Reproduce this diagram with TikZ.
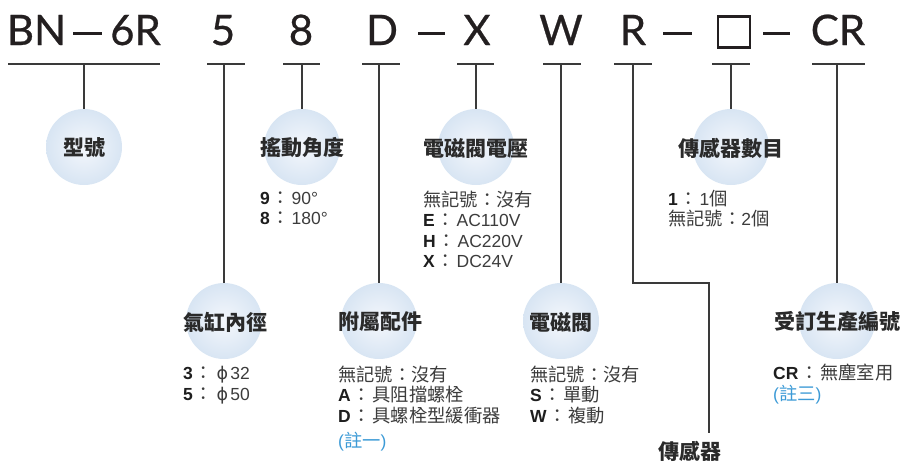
\documentclass[tikz,border=0pt]{standalone}
\usepackage{fontspec}
\setmainfont{Liberation Sans}
\newfontfamily\cj{Noto Sans CJK TC}
\newfontfamily\codefont[FakeBold=0.6]{Lato}
\newfontfamily\dvs{DejaVu Sans}
\definecolor{linec}{HTML}{3A3A3A}
\definecolor{codec}{HTML}{231F20}
\definecolor{titlec}{HTML}{2A2A2A}
\definecolor{bodyc}{HTML}{3C3C3C}
\definecolor{boldc}{HTML}{1E1E1E}
\definecolor{notec}{HTML}{3C9AD6}
\definecolor{bubin}{HTML}{F4F7FC}
\definecolor{bubout}{HTML}{D8E5F3}
\tikzset{
  bubble/.style={circle, minimum size=76pt, inner sep=0pt, inner color=bubin, outer color=bubout},
  title/.style={font=\cj\bfseries\fontsize{21}{24}\selectfont, text=titlec, inner sep=0pt},
  body/.style={font=\fontsize{17.5}{20}\selectfont, text=bodyc, inner sep=0pt, anchor=base west},
  note/.style={body, text=notec},
  code/.style={font=\codefont\fontsize{42}{46}\selectfont, text=codec, inner sep=0pt, anchor=base},
  conn/.style={draw=linec, line width=1.3pt},
  sqbox/.style={draw=codec, line width=2.3pt, minimum width=32pt, minimum height=31pt, inner sep=0pt}
}
\newcommand{\bb}[1]{{\bfseries\color{boldc}#1}}
\newcommand{\cc}[1]{{\cj\fontsize{18.3}{20}\selectfont #1}}
\newcommand{\colo}{\hspace{2pt}\cc{：}\hspace{1.5pt}}
\newcommand{\dashmark}[1]{\rule[10.5pt]{#1}{2.8pt}}
\begin{document}
\begin{tikzpicture}[x=1pt,y=-1pt]
\useasboundingbox (0,0) rectangle (902,461);
% code line
\node[code] (cBN) at (36.5,45) {BN};
\node[code] (d1) at (87.5,45) {\dashmark{29pt}};
\node[code] (c6R) at (135.5,45) {6R};
\node[code] (c5) at (223,45) {5};
\node[code] (c8) at (301,45) {8};
\node[code] (cD) at (382,45) {D};
\node[code] (d2) at (431.5,45) {\dashmark{27pt}};
\node[code] (cX) at (477,45) {X};
\node[code] (cW) at (561,45) {W};
\node[code] (cR) at (633,45) {R};
\node[code] (d3) at (677.5,45) {\dashmark{29pt}};
\node[sqbox] (cSq) at (734,32) {};
\node[code] (d4) at (776.5,45) {\dashmark{27pt}};
\node[code] (cCR) at (838,45) {CR};
% bars
\draw[conn] (8,64) -- (160,64);
\draw[conn] (207,64) -- (245,64);
\draw[conn] (283,64) -- (320,64);
\draw[conn] (362,64) -- (400,64);
\draw[conn] (457,64) -- (494,64);
\draw[conn] (543,64) -- (581,64);
\draw[conn] (614,64) -- (652,64);
\draw[conn] (712,64) -- (750,64);
\draw[conn] (812,64) -- (865,64);
\coordinate (k1) at (84,64);
\coordinate (k2) at (224,64);
\coordinate (k3) at (302,64);
\coordinate (k4) at (379,64);
\coordinate (k5) at (476,64);
\coordinate (k6) at (561,64);
\coordinate (k7) at (633,64);
\coordinate (k8) at (731,64);
\coordinate (k9) at (837,64);
% bubbles
\node[bubble] (b1) at (84,147) {};
\node[bubble] (b3) at (302,147) {};
\node[bubble] (b5) at (476,147) {};
\node[bubble] (b8) at (731,147) {};
\node[bubble] (b2) at (224,321) {};
\node[bubble] (b4) at (379,321) {};
\node[bubble] (b6) at (561,321) {};
\node[bubble] (b9) at (837,321) {};
% connectors
\draw[conn] (k1) -- (b1.north);
\draw[conn] (k3) -- (b3.north);
\draw[conn] (k5) -- (b5.north);
\draw[conn] (k8) -- (b8.north);
\draw[conn] (k2) -- (b2.north);
\draw[conn] (k4) -- (b4.north);
\draw[conn] (k6) -- (b6.north);
\draw[conn] (k9) -- (b9.north);
\coordinate (rEnd) at (709,433);
\draw[conn] (k7) |- (709,283) -- (rEnd);
% titles
\node[title] (t1) at (84,148) {型號};
\node[title] (t3) at (302,148) {搖動角度};
\node[title] (t5) at (476,148) {電磁閥電壓};
\node[title] (t8) at (731,148) {傳感器數目};
\node[title] (t2) at (225,322) {氣缸內徑};
\node[title] (t4) at (380,322) {附屬配件};
\node[title] (t6) at (561,322) {電磁閥};
\node[title] (t9) at (837,322) {受訂生產編號};
\node[title] (t7) at (690,451) {傳感器};
% bodies
\node[body] (s3a) at (260,204.5) {\bb{9}\colo 90°};
\node[body] (s3b) at (260,224.5) {\bb{8}\colo 180°};
\node[body] (s5a) at (423,206) {\cc{無記號：沒有}};
\node[body] (s5b) at (423,226.5) {\bb{E}\colo AC110V};
\node[body] (s5c) at (423,247) {\bb{H}\colo AC220V};
\node[body] (s5d) at (423,267.5) {\bb{X}\colo DC24V};
\node[body] (s8a) at (668,205) {\bb{1}\colo 1\cc{個}};
\node[body] (s8b) at (668,225.5) {\cc{無記號：}2\cc{個}};
\node[body] (s2a) at (183,379.5) {\bb{3}\colo\hspace{2pt}{\dvs ϕ}\hspace{2pt}32};
\node[body] (s2b) at (183,400) {\bb{5}\colo\hspace{2pt}{\dvs ϕ}\hspace{2pt}50};
\node[body] (s4a) at (338,381) {\cc{無記號：沒有}};
\node[body] (s4b) at (338,401.5) {\bb{A}\colo\cc{具阻擋螺栓}};
\node[body] (s4c) at (338,422) {\bb{D}\colo\cc{具螺栓型緩衝器}};
\node[note] (s4d) at (338,447) {(\cc{註一})};
\node[body] (s6a) at (530,381) {\cc{無記號：沒有}};
\node[body] (s6b) at (530,401.5) {\bb{S}\colo\cc{單動}};
\node[body] (s6c) at (530,422) {\bb{W}\colo\cc{複動}};
\node[body] (s9a) at (773,379.5) {\bb{CR}\colo\cc{無塵室用}};
\node[note] (s9b) at (773,400) {(\cc{註三})};
\end{tikzpicture}
\end{document}
